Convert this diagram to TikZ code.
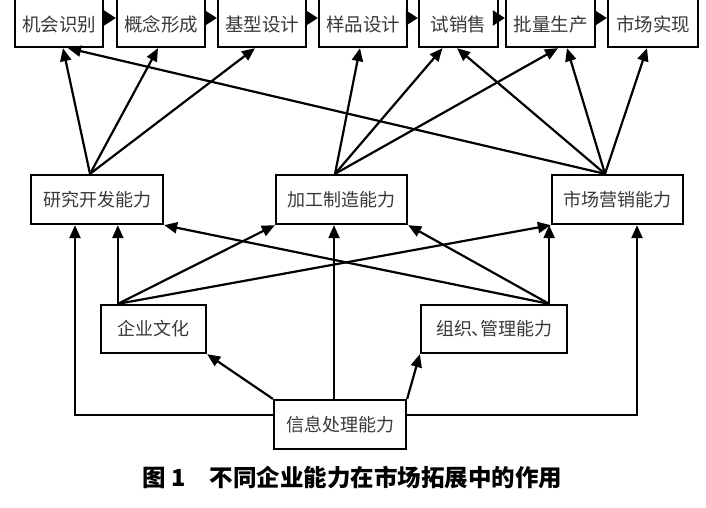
\documentclass[tikz,border=0pt]{standalone}
\usepackage{fontspec}
\newfontfamily\cjk{Noto Sans CJK SC}
\usetikzlibrary{arrows.meta}
\begin{document}
\begin{tikzpicture}[x=1pt,y=-1pt,
  box/.style={draw, line width=2.3pt, inner sep=0pt, font=\cjk\fontsize{18}{18}\selectfont, text=black!78},
  topbox/.style={box, minimum height=50pt, text height=21pt, text depth=1.5pt, font=\cjk\fontsize{18.5}{18.5}\selectfont},
  midbox/.style={box, minimum height=49pt},
  link/.style={line width=2.2pt, -{Triangle[length=13pt,width=11pt]}},
  flow/.style={line width=2pt, -{Triangle[length=12pt,width=15pt]}}
]
\useasboundingbox (0,0) rectangle (706,507);
% top row
\node[topbox, minimum width=88pt] (b1) at (59,22) {机会识别};
\node[topbox, minimum width=88pt] (b2) at (161,22) {概念形成};
\node[topbox, minimum width=88pt] (b3) at (262,22) {基型设计};
\node[topbox, minimum width=88pt] (b4) at (363,22) {样品设计};
\node[topbox, minimum width=79pt] (b5) at (458.5,22) {试销售};
\node[topbox, minimum width=89pt] (b6) at (550.5,22) {批量生产};
\node[topbox, minimum width=90pt] (b7) at (653,22) {市场实现};
% middle row
\node[midbox, minimum width=132pt] (m1) at (97,199.5) {研究开发能力};
\node[midbox, minimum width=131pt] (m2) at (341.5,199.5) {加工制造能力};
\node[midbox, minimum width=131pt] (m3) at (617.5,199.5) {市场营销能力};
% bottom row
\node[midbox, minimum width=105pt, minimum height=48pt] (c1) at (153.5,329) {企业文化};
\node[midbox, minimum width=146pt, minimum height=48pt] (c2) at (494,329) {组织\kern-1pt、\kern-9pt管理能力};
\node[midbox, minimum width=132pt] (i) at (340,424.5) {信息处理能力};
% caption
\node[font=\cjk\bfseries\fontsize{23.5}{23.5}\selectfont, inner sep=0pt] (cap) at (352.5,478) {图 1\hspace{24pt}不同企业能力在市场拓展中的作用};
% top flow arrows
\draw[flow] ([yshift=4pt]b1.east) -- ([yshift=4pt]b2.west);
\draw[flow] ([yshift=4pt]b2.east) -- ([yshift=4pt]b3.west);
\draw[flow] ([yshift=4pt]b3.east) -- ([yshift=4pt]b4.west);
\draw[flow] ([yshift=4pt]b4.east) -- ([yshift=4pt]b5.west);
\draw[flow] ([yshift=4pt]b5.east) -- ([yshift=4pt]b6.west);
\draw[flow] ([yshift=4pt]b6.east) -- ([yshift=4pt]b7.west);
% source points
\coordinate (m1s) at ([xshift=-7pt]m1.north);
\coordinate (m2s) at ([xshift=-6.5pt]m2.north);
\coordinate (m3s) at ([xshift=-12.5pt]m3.north);
\coordinate (c1s) at ([xshift=18pt]c1.north west);
\coordinate (c2s) at ([xshift=-19pt]c2.north east);
\coordinate (is) at ([xshift=-6pt]i.north);
% middle to top
\draw[link] (m1s) -- ([xshift=4pt]b1.south);
\draw[link] (m1s) -- ([xshift=-3pt]b2.south);
\draw[link] (m1s) -- ([xshift=-7pt]b3.south);
\draw[link] (m2s) -- ([xshift=-3pt]b4.south);
\draw[link] (m2s) -- ([xshift=-16pt]b5.south);
\draw[link] (m2s) -- ([xshift=7.5pt]b6.south);
\draw[link] (m3s) -- ([xshift=9pt]b1.south);
\draw[link] (m3s) -- ([xshift=-1.5pt]b5.south);
\draw[link] (m3s) -- ([xshift=16.5pt]b6.south);
\draw[link] (m3s) -- ([xshift=-6pt]b7.south);
% bottom to middle
\draw[link] (c1s) -- (c1s |- m1.south);
\draw[link] (c1s) -- (m2.south west);
\draw[link] (c1s) -- (m3.south west);
\draw[link] (c2s) -- (c2s |- m3.south);
\draw[link] (c2s) -- (m2.south east);
\draw[link] (c2s) -- (m1.south east);
\draw[link] (i.north west) -- (c1.south east);
\draw[link] (i.north east) -- (c2.south west);
\draw[link] (is) -- (is |- m2.south);
\draw[link] ([yshift=9.5pt]i.west) -| ([xshift=-22pt]m1.south);
\draw[link] ([yshift=9.5pt]i.east) -| ([xshift=19.5pt]m3.south);
\end{tikzpicture}
\end{document}
